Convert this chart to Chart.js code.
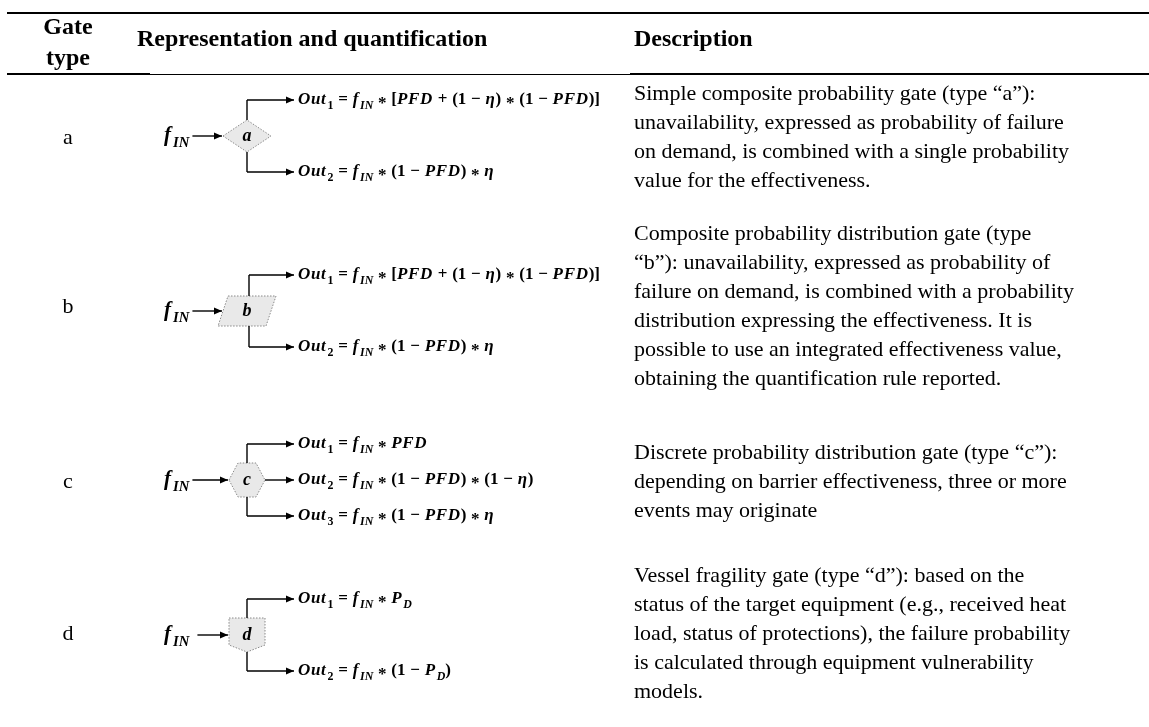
<!DOCTYPE html>
<html><head><meta charset="utf-8">
<script src="https://cdn.jsdelivr.net/npm/chart.js@4.4.0/dist/chart.umd.min.js"></script>
<style>html,body{margin:0;padding:0;background:#fff;}#wrap{width:1149px;height:727px;position:relative;}</style>
</head><body><div id="wrap"><canvas id="c" width="1149" height="727"></canvas></div>
<script>
// ---- table content ----
const headerGate = ['Gate', 'type'];
const headerRepr = 'Representation and quantification';
const headerDesc = 'Description';
const gateTypes = ['a', 'b', 'c', 'd'];
const gateShapes = ['diamond', 'parallelogram', 'hexagon', 'shield'];
const inputLabel = 'f_{IN}';
const formulasA = ['Out_{1} = f_{IN} * [PFD + (1 − η) * (1 − PFD)]', 'Out_{2} = f_{IN} * (1 − PFD) * η'];
const formulasB = ['Out_{1} = f_{IN} * [PFD + (1 − η) * (1 − PFD)]', 'Out_{2} = f_{IN} * (1 − PFD) * η'];
const formulasC = ['Out_{1} = f_{IN} * PFD', 'Out_{2} = f_{IN} * (1 − PFD) * (1 − η)', 'Out_{3} = f_{IN} * (1 − PFD) * η'];
const formulasD = ['Out_{1} = f_{IN} * P_{D}', 'Out_{2} = f_{IN} * (1 − P_{D})'];
const descA = ['Simple composite probability gate (type \u201ca\u201d):', 'unavailability, expressed as probability of failure', 'on demand, is combined with a single probability', 'value for the effectiveness.'];
const descB = ['Composite probability distribution gate (type', '\u201cb\u201d): unavailability, expressed as probability of', 'failure on demand, is combined with a probability', 'distribution expressing the effectiveness. It is', 'possible to use an integrated effectiveness value,', 'obtaining the quantification rule reported.'];
const descC = ['Discrete probability distribution gate (type \u201cc\u201d):', 'depending on barrier effectiveness, three or more', 'events may originate'];
const descD = ['Vessel fragility gate (type \u201cd\u201d): based on the', 'status of the target equipment (e.g., received heat', 'load, status of protections), the failure probability', 'is calculated through equipment vulnerability', 'models.'];

// ---- layout (positions / styles) ----
const L = {
  W: 1149, H: 727,
  ruleTop: 13, ruleHead: 74, ruleLeft: 7,
  labelX: 68, gateY: [28, 59], headY: 40, reprX: 137, descX: 634,
  rowY: [138, 307, 482, 634], diagY: [136, 311, 480, 635], lineH: 29,
  finX: 164, shapeX: 247, tipX: 294, formX: 298, outGap: 36,
  bodyFont: "22px 'Liberation Serif'", headFont: "bold 24px 'Liberation Serif'",
  mathSize: 17, finSize: 21, gateLetterSize: 18
};

const rows = [
  {label: gateTypes[0], shape: gateShapes[0], formulas: formulasA, desc: descA},
  {label: gateTypes[1], shape: gateShapes[1], formulas: formulasB, desc: descB},
  {label: gateTypes[2], shape: gateShapes[2], formulas: formulasC, desc: descC},
  {label: gateTypes[3], shape: gateShapes[3], formulas: formulasD, desc: descD}
];

function parseMath(s) {
  const out = [];
  let i = 0;
  while (i < s.length) {
    if (s[i] === '_' && s[i + 1] === '{') {
      const j = s.indexOf('}', i);
      for (const ch of s.slice(i + 2, j)) out.push({ch, sub: true});
      i = j + 1;
    } else { out.push({ch: s[i], sub: false}); i++; }
  }
  return out;
}

function drawMath(ctx, s, x, y, size) {
  const toks = parseMath(s);
  let cx = x, prevSub = false;
  ctx.textBaseline = 'middle';
  ctx.textAlign = 'left';
  for (const t of toks) {
    const sz = t.sub ? size * 0.7 : size;
    const dy = t.sub ? size * 0.32 : 0;
    if (t.sub && !prevSub) cx += size * 0.06;
    prevSub = t.sub;
    if (t.ch === ' ') { cx += size * 0.28; continue; }
    const ital = /[A-Za-z\u03b7]/.test(t.ch);
    ctx.font = (ital ? 'italic bold ' : 'bold ') + sz + "px 'Liberation Serif'";
    const extra = t.ch === '*' ? size * 0.22 : 0;
    ctx.fillText(t.ch, cx, y + dy + extra);
    cx += ctx.measureText(t.ch).width + (ital && !t.sub ? size * 0.04 : 0);
  }
  return cx;
}

function arrow(ctx, x1, y1, x2, y2) {
  ctx.beginPath(); ctx.moveTo(x1, y1); ctx.lineTo(x2, y2); ctx.stroke();
  const a = Math.atan2(y2 - y1, x2 - x1), len = 8, hw = 3.6;
  ctx.beginPath();
  ctx.moveTo(x2, y2);
  ctx.lineTo(x2 - len * Math.cos(a) + hw * Math.sin(a), y2 - len * Math.sin(a) - hw * Math.cos(a));
  ctx.lineTo(x2 - len * Math.cos(a) - hw * Math.sin(a), y2 - len * Math.sin(a) + hw * Math.cos(a));
  ctx.closePath(); ctx.fill();
}

function shapePath(ctx, kind, cx, cy) {
  ctx.beginPath();
  let left, top, bottom, right, stemX = cx;
  if (kind === 'diamond') {
    ctx.moveTo(cx - 24, cy); ctx.lineTo(cx, cy - 16); ctx.lineTo(cx + 24, cy); ctx.lineTo(cx, cy + 16);
    left = cx - 24; right = cx + 24; top = cy - 16; bottom = cy + 16;
  } else if (kind === 'parallelogram') {
    const w = 48, h = 30, s = 10;
    ctx.moveTo(cx - w / 2 + s / 2, cy - h / 2); ctx.lineTo(cx + w / 2 + s / 2, cy - h / 2);
    ctx.lineTo(cx + w / 2 - s / 2, cy + h / 2); ctx.lineTo(cx - w / 2 - s / 2, cy + h / 2);
    left = cx - w / 2; right = cx + w / 2; top = cy - h / 2; bottom = cy + h / 2; stemX = cx + 2;
  } else if (kind === 'hexagon') {
    ctx.moveTo(cx - 18, cy); ctx.lineTo(cx - 9, cy - 17); ctx.lineTo(cx + 9, cy - 17);
    ctx.lineTo(cx + 18, cy); ctx.lineTo(cx + 9, cy + 17); ctx.lineTo(cx - 9, cy + 17);
    left = cx - 18; right = cx + 18; top = cy - 17; bottom = cy + 17;
  } else {
    ctx.moveTo(cx - 18, cy - 17); ctx.lineTo(cx + 18, cy - 17); ctx.lineTo(cx + 18, cy + 10);
    ctx.lineTo(cx, cy + 17); ctx.lineTo(cx - 18, cy + 10);
    left = cx - 18; right = cx + 18; top = cy - 17; bottom = cy + 17;
  }
  ctx.closePath();
  return {left, right, top, bottom, stemX};
}

const tablePlugin = {
  id: 'tableDraw',
  afterDatasetsDraw(chart) {
    const ctx = chart.ctx;
    const X = v => chart.scales.x.getPixelForValue(v);
    const Y = v => chart.scales.y.getPixelForValue(v);
    ctx.save();
    ctx.fillStyle = '#000';
    ctx.font = L.headFont; ctx.textBaseline = 'middle';
    ctx.textAlign = 'center';
    ctx.fillText(headerGate[0], X(L.labelX), Y(L.gateY[0]));
    ctx.fillText(headerGate[1], X(L.labelX), Y(L.gateY[1]));
    ctx.textAlign = 'left';
    ctx.fillText(headerRepr, X(L.reprX), Y(L.headY));
    ctx.fillText(headerDesc, X(L.descX), Y(L.headY));

    rows.forEach((r, i) => {
      const ry = Y(L.rowY[i]);
      const cy = Y(L.diagY[i]);
      ctx.font = L.bodyFont; ctx.textAlign = 'center'; ctx.textBaseline = 'middle';
      ctx.fillStyle = '#000';
      ctx.fillText(r.label, X(L.labelX), ry);
      ctx.textAlign = 'left';
      const n = r.desc.length;
      r.desc.forEach((line, k) => {
        ctx.fillText(line, X(L.descX), ry + (k - (n - 1) / 2) * L.lineH);
      });
      const cx = X(L.shapeX);
      ctx.strokeStyle = '#000'; ctx.fillStyle = '#000'; ctx.lineWidth = 1.4;
      const finEnd = drawMath(ctx, inputLabel, X(L.finX), cy, L.finSize);
      const geo = shapePath(ctx, r.shape, cx, cy);
      ctx.fillStyle = '#e9e9e9'; ctx.fill();
      ctx.setLineDash([1.5, 1.5]); ctx.strokeStyle = '#8a8a8a'; ctx.lineWidth = 1; ctx.stroke();
      ctx.setLineDash([]);
      ctx.strokeStyle = '#000'; ctx.fillStyle = '#000'; ctx.lineWidth = 1.4;
      arrow(ctx, finEnd + (r.shape === 'shield' ? 8 : 3), cy, geo.left - 1, cy);
      ctx.font = 'italic bold ' + L.gateLetterSize + "px 'Liberation Serif'";
      ctx.textAlign = 'center';
      ctx.fillText(r.label, cx, cy);
      const gap = L.outGap, tip = X(L.tipX), fx = X(L.formX);
      ctx.beginPath(); ctx.moveTo(geo.stemX, geo.top); ctx.lineTo(geo.stemX, cy - gap); ctx.stroke();
      arrow(ctx, geo.stemX, cy - gap, tip, cy - gap);
      drawMath(ctx, r.formulas[0], fx, cy - gap, L.mathSize);
      if (r.formulas.length === 3) {
        arrow(ctx, geo.right, cy, tip, cy);
        drawMath(ctx, r.formulas[1], fx, cy, L.mathSize);
      }
      ctx.beginPath(); ctx.moveTo(geo.stemX, geo.bottom); ctx.lineTo(geo.stemX, cy + gap); ctx.stroke();
      arrow(ctx, geo.stemX, cy + gap, tip, cy + gap);
      drawMath(ctx, r.formulas[r.formulas.length - 1], fx, cy + gap, L.mathSize);
    });
    ctx.restore();
  }
};

const ruleDs = (pts, w) => ({type: 'line', data: pts, borderColor: '#000', borderWidth: w, pointRadius: 0, fill: false, clip: false});

new Chart(document.getElementById('c'), {
  type: 'scatter',
  data: {
    datasets: [
      ruleDs([{x: L.ruleLeft, y: L.ruleTop}, {x: L.W, y: L.ruleTop}], 2),
      ruleDs([{x: L.ruleLeft, y: L.ruleHead}, {x: 150, y: L.ruleHead}], 2),
      ruleDs([{x: 150, y: L.ruleHead + 0.5}, {x: 630, y: L.ruleHead + 0.5}], 1),
      ruleDs([{x: 630, y: L.ruleHead}, {x: L.W, y: L.ruleHead}], 2)
    ]
  },
  options: {
    responsive: false, animation: false, events: [],
    layout: {padding: 0},
    plugins: {legend: {display: false}, tooltip: {enabled: false}, title: {display: false}},
    scales: {
      x: {type: 'linear', min: 0, max: L.W, display: false},
      y: {type: 'linear', min: 0, max: L.H, reverse: true, display: false}
    }
  },
  plugins: [tablePlugin]
});
</script>
</body></html>
